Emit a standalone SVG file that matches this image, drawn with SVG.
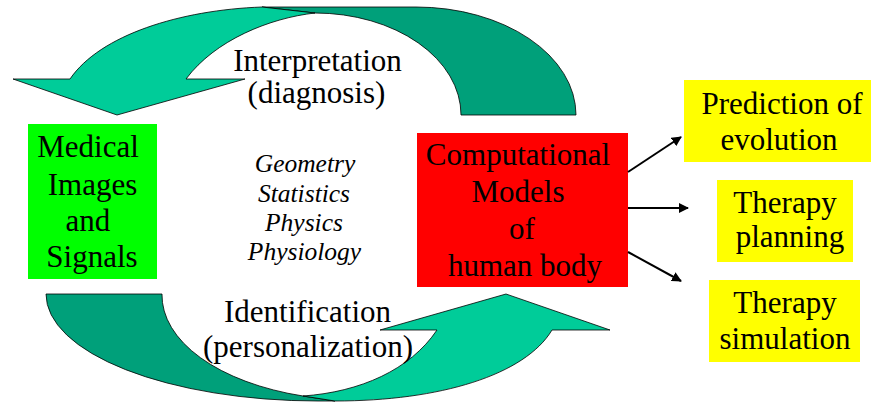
<svg xmlns="http://www.w3.org/2000/svg" width="871" height="402" viewBox="0 0 871 402">
<defs>
<style>
.t{font-family:"Liberation Serif","Times New Roman",serif;font-size:31px;fill:#000;text-anchor:middle}
.i{font-family:"Liberation Serif","Times New Roman",serif;font-size:25.5px;font-style:italic;fill:#000;text-anchor:middle}
.lt{fill:#00CC99;stroke:#000;stroke-width:0.8;stroke-linejoin:miter}
.dk{fill:#00A07A;stroke:#000;stroke-width:0.8}
.ln{stroke:#000;stroke-width:2;fill:none}
</style>
<marker id="ah" viewBox="0 0 10 10" refX="9" refY="5" markerWidth="5" markerHeight="5" orient="auto" markerUnits="strokeWidth">
<path d="M0,0 L10,5 L0,10 z" fill="#000"/>
</marker>
</defs>
<rect width="871" height="402" fill="#fff"/>
<g id="cycle">
<path class="dk" d="M262,7 L416,7 A160,108 0 0 1 576,115 L461,115 A146,102 0 0 0 315,13 Z"/>
<path class="lt" d="M70,79 C100,35 180,10 262,7 L315,13 C270,18 215,40 186,79 L245,79 L117,115 L13,79 Z"/>
<path class="dk" d="M46,294 L162,294 A196,105 0 0 0 303,396 L335,401 L318,401 A272,107 0 0 1 46,294 Z"/>
<path class="lt" d="M303,396 L335,401 C440,401 525,375 552,330 L610,330 L506,294 L380,330 L437,330 C410,370 360,392 303,396 Z"/>
<text class="t" x="317.5" y="71">Interpretation</text>
<text class="t" x="316.5" y="103">(diagnosis)</text>
<text class="t" x="307.5" y="322">Identification</text>
<text class="t" x="308" y="357">(personalization)</text>
</g>
<g id="methods">
<text class="i" x="305" y="172">Geometry</text>
<text class="i" x="304" y="202">Statistics</text>
<text class="i" x="304" y="231">Physics</text>
<text class="i" x="304.5" y="260">Physiology</text>
</g>
<g id="medical">
<rect x="28" y="124" width="129" height="155" fill="#00FF00"/>
<text class="t" x="88" y="157">Medical</text>
<text class="t" x="92.5" y="195">Images</text>
<text class="t" x="88" y="231">and</text>
<text class="t" x="92" y="267">Signals</text>
</g>
<g id="models">
<rect x="417" y="133" width="211" height="154" fill="#FF0000"/>
<text class="t" x="518" y="165">Computational</text>
<text class="t" x="518" y="202">Models</text>
<text class="t" x="522" y="239">of</text>
<text class="t" x="525" y="276">human body</text>
</g>
<g id="prediction">
<rect x="684" y="80" width="187" height="82" fill="#FFFF00"/>
<text class="t" x="782" y="114">Prediction of</text>
<text class="t" x="779" y="150">evolution</text>
</g>
<g id="planning">
<rect x="717" y="180" width="136" height="82" fill="#FFFF00"/>
<text class="t" x="785" y="213">Therapy</text>
<text class="t" x="790" y="247">planning</text>
</g>
<g id="simulation">
<rect x="709" y="280" width="151" height="82" fill="#FFFF00"/>
<text class="t" x="785" y="313">Therapy</text>
<text class="t" x="785" y="349">simulation</text>
</g>
<g id="connectors">
<line class="ln" x1="628" y1="172" x2="681" y2="137" marker-end="url(#ah)"/>
<line class="ln" x1="628" y1="208" x2="688" y2="208" marker-end="url(#ah)"/>
<line class="ln" x1="628" y1="252" x2="681" y2="281" marker-end="url(#ah)"/>
</g>
</svg>
